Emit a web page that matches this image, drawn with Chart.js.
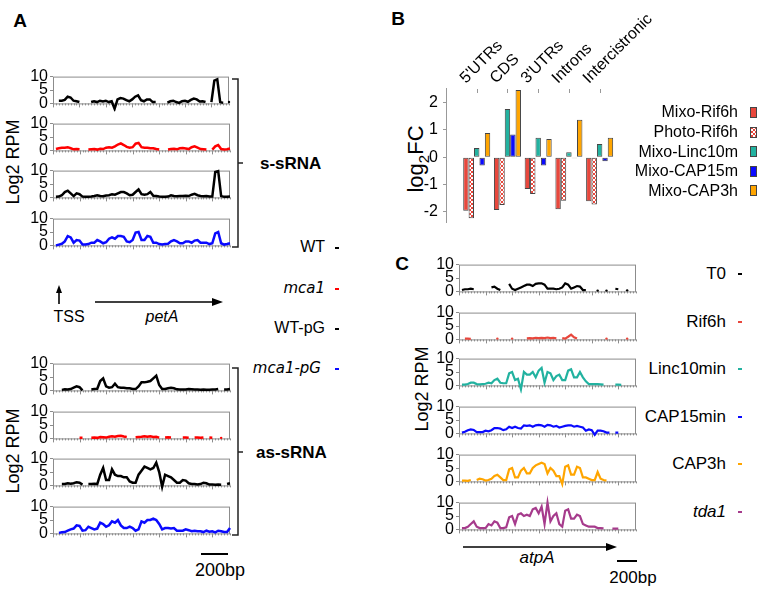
<!DOCTYPE html>
<html>
<head>
<meta charset="utf-8">
<script src="https://cdn.jsdelivr.net/npm/chart.js"></script>
<style>
  body { margin: 0; width: 761px; height: 591px; position: relative; overflow: hidden; background: #fff;
         font-family: "Liberation Sans", Arial, sans-serif; color: #000; }
  canvas { position: absolute; }
  .t { position: absolute; white-space: nowrap; line-height: 1; }
  .c { transform: translate(-50%, -50%); }
  .r { transform: translate(-100%, -50%); }
  .l { transform: translateY(-50%); }
  .rot { transform: translate(-50%, -50%) rotate(-90deg); }
  .diag { transform-origin: 0 100%; transform: rotate(-45deg); font-size: 16px; height: 16px; }
  .b { font-weight: bold; }
  .i { font-style: italic; }
  .dv { font-family: "DejaVu Sans", sans-serif; }
  svg { position: absolute; left: 0; top: 0; }
</style>
</head>
<body>

<!-- panel letters and static text -->
<div class="t c b" style="left:20px;top:20px;font-size:19px">A</div>
<div class="t c b" style="left:398px;top:18px;font-size:19px">B</div>
<div class="t c b" style="left:402px;top:263px;font-size:19px">C</div>

<div class="t rot" style="left:13px;top:162px;font-size:18px">Log2 RPM</div>
<div class="t rot" style="left:13px;top:451px;font-size:18px">Log2 RPM</div>
<div class="t rot" style="left:422px;top:389px;font-size:18px">Log2 RPM</div>
<div class="t rot" style="left:418px;top:159px;font-size:22px">log<sub style="font-size:15px">2</sub>FC</div>

<div class="t l b" style="left:260px;top:163px;font-size:17px">s-sRNA</div>
<div class="t l b" style="left:256px;top:452px;font-size:17px">as-sRNA</div>

<div class="t r" style="left:325px;top:247px;font-size:16px">WT</div>
<div class="t r i dv" style="left:325px;top:288px;font-size:15px">mca1</div>
<div class="t r" style="left:325px;top:328px;font-size:16px">WT-pG</div>
<div class="t r i dv" style="left:321px;top:368px;font-size:15px">mca1-pG</div>

<div class="t c" style="left:69px;top:317px;font-size:16px">TSS</div>
<div class="t c i" style="left:162px;top:317px;font-size:16px">petA</div>
<div class="t c" style="left:220px;top:570px;font-size:18px">200bp</div>

<div class="t r" style="left:726px;top:273px;font-size:17px">T0</div>
<div class="t r" style="left:726px;top:321px;font-size:17px">Rif6h</div>
<div class="t r" style="left:726px;top:368px;font-size:17px">Linc10min</div>
<div class="t r" style="left:726px;top:416px;font-size:17px">CAP15min</div>
<div class="t r" style="left:726px;top:463px;font-size:17px">CAP3h</div>
<div class="t r i" style="left:726px;top:511px;font-size:17px">tda1</div>
<div class="t c i" style="left:537px;top:557px;font-size:17px">atpA</div>
<div class="t c" style="left:633px;top:577px;font-size:17px">200bp</div>

<script>
// ---- panel B: log2FC per region ----
const regions = ["5'UTRs", "CDS", "3'UTRs", "Introns", "Intercistronic"];
const mixoRif6h   = [-1.95, -1.93, -1.16, -1.90, -1.61];
const photoRif6h  = [-2.23, -1.74, -1.34, -1.59, -1.73];
const mixoLinc10m = [0.34, 1.76, 0.71, 0.18, 0.48];
const mixoCap15m  = [-0.30, 0.83, -0.30, -0.04, -0.15];
const mixoCap3h   = [0.89, 2.46, 0.67, 1.37, 0.71];
const fcTicks = [-2, -1, 0, 1, 2];
const rpmTicks = [0, 5, 10];

// ---- panel A: petA coverage, 61 bins (log2 RPM) ----
const wtSense = [null,null,1,1,1.3,2.5,2.2,1,0.8,0.5, null,null,null,0.5,0.8,0.5,1,0.7,1,0.5,
  0.8,-2,1.5,2,1.8,1.2,0.8,1.5,2.5,3, 1.2,0.8,1.5,1.5,0.5,0.5,null,null,null,0.3,
  0.8,1,0.5,0.2,0.8,1,0.6,1.3,1.8,1.5, 0.7,0.8,0.5,null,0.5,8.5,9,0.5,0.2,null, 0.5];
const mca1Sense = [null,0.5,0.8,1,1,1.2,0.8,0.4,0.5,0.4, null,null,0.3,0.4,0.5,0.3,0.6,0.5,1,1.2,
  1,1.5,2.2,2.6,2,1.3,1,1.2,2.5,2.8, 1.2,1,1,0.8,0.8,0.5,0.3,null,null,0.3,
  0.5,0.6,0.4,0.8,0.9,0.7,0.5,1.2,1.5,1, 0.5,0.4,0.3,null,0.3,1.5,2,0.5,0.3,0.4, 0.7];
const wtPgSense = [null,0.2,0.3,0.8,2,2.5,1.5,0.5,1.5,1.2, 0.3,0.2,0.2,0.3,0.5,0.8,0.5,0.4,0.7,0.8,
  1.2,1,1.5,2,2,1.5,0.8,1,2,3, 1.2,1,1.2,2,0.6,0.5,0.3,0.2,0.2,0.3,
  0.8,0.5,0.4,0.5,0.5,0.6,0.5,1,1.3,0.8, 0.5,0.4,0.5,0.3,0.3,9.5,9.8,0.5,0.2,0.2, 0.3];
const mca1PgSense = [null,0,0.3,0.6,1.5,3.5,3,1,2,1.8, 0.3,0.3,0.5,1,1,2,1.5,0.8,1.2,2.5,
  3,2.5,3.5,3.5,3.2,1.5,1.2,2,4.8,5, 2,2,3.5,3.2,1,1,0.5,0.3,0.5,0.6,
  1.5,2,1.5,0.8,0.8,1.5,1.5,1,1.8,2, 1,1,1,0.5,0.8,4.5,5,0.8,0.3,0.5, 0.8];
const wtAnti = [null,null,null,0.2,0.4,0.3,0.5,1,1.5,1.2, 0,null,null,0.3,0.5,0.6,3.5,4.5,1.5,1,
  1.2,2.5,1.2,1,1,0.8,0.8,0.5,0.5,1.5, 3,3,3.2,3.5,4.5,5.5,2,0.5,0.5,0.8,
  1,0.8,0.4,0.3,0.3,0.3,0.5,0.4,0.3,0.3, 0.2,0.3,0.2,0.2,0.3,0.3,0.5,null,0.3,0.3, 0.5];
const mca1Anti = [null,null,null,null,null,null,null,null,null,0.2, 0.2,null,null,0.2,0.3,0.2,0.5,0.4,0.3,0.6,
  0.8,0.6,0.9,1,0.7,0.5,null,null,0.4,0.5, 0.6,0.8,0.6,0.8,0.5,0.6,0.3,null,0.3,0.4,
  0.3,null,null,null,0.3,0.3,0.2,null,0.3,0.3, 0.2,0.3,null,0.3,0.2,null,null,0.2,null,null, null];
const wtPgAnti = [null,null,null,0.5,0.5,0.8,0.6,0.8,1.2,1, 0.3,null,0.5,0.5,0.6,0.5,4,6.5,2,2,
  6,4,3.5,3.5,3,3,1.5,1,1,4, 5.5,7,6.5,6,6.5,8.5,5,-0.5,4,3.5,
  3,2,1,1,2,1.8,0.8,0.5,0.5,0.3, 0.5,1,0.8,0.3,0.3,0.2,0.3,0.2,null,0.5, 0.8];
const mca1PgAnti = [null,null,0.2,0.4,0.5,1,1.5,1.8,3,2.8, 1,1.2,2.5,2,1.5,1.8,4,3.5,2.5,3,
  4.5,4,5,3,2,2,2.5,2,1,1.5, 4.5,4,5,5,5.5,5,3.5,1.5,2,2,
  1.8,2,1,1,1,1.5,1.2,0.8,1,0.8, 0.8,0.5,1,0.6,0.8,0.4,1,0.8,0.5,0.5, 2];

// ---- panel C: atpA coverage, 61 bins (log2 RPM) ----
const t0 = [null,0.5,0.8,0.8,1,0.8,null,null,null,null, null,1.5,1.8,1,0.5,null,null,2.8,1,0.5,
  1,1.5,2,2.5,2.5,2,2.8,3,3,2.5, 1,1,1,0.8,1,1.5,3,2.5,1,1.5,
  2,1.8,0.5,0.5,null,null,null,0.3,null,null, 0.3,null,null,1,0.8,null,null,0.4,null,null, null];
const rif6h = [null,null,0.3,0.3,0.2,null,null,null,null,null, null,null,null,0.3,null,null,null,null,0.3,null,
  null,null,null,0.4,0.5,0.4,0.6,0.5,0.6,0.5, 0.7,0.5,0.6,0.4,null,0.5,0.3,1,1.8,0.8,
  0.3,null,null,null,null,null,null,null,null,null, 0.3,null,null,null,null,null,null,0.3,null,null, null];
const linc10min = [null,0.3,0.3,0.5,1,1,0.5,0.4,0.5,0.6, 1,0.8,2,2.5,1,0.8,0.8,4.5,5,2,
  2.5,-1.5,5,4,4,5,3,5.5,6.5,1, 5,4.5,2,3.5,4,2,2,5.5,6,3,
  3,5,3,1.5,0.5,0.5,0.5,0.5,0.4,0.3, null,null,null,0.3,0.3,0.2,null,null,null,null, null];
const cap15min = [null,0.3,0.6,1.2,1.5,1.3,0.5,0.5,0.5,1, 0.8,1.2,2,2,1.8,1.2,1.5,2.5,2,2.5,
  2,1.8,3,2.8,3,2.5,3,3.2,3,2.5, 3.2,3,2.5,2.8,2.2,2.5,2.8,3,3,2.5,
  2.8,2.5,2.2,1,1.5,1.2,-0.5,1,1,0.8, 0.3,0.3,null,0.3,0.3,null,null,null,null,null, null];
const cap3h = [null,0.3,0.3,0.2,0.5,null,0.5,1,0.8,0.3, 0.5,1,2,2.5,1.5,0.5,0.5,4.5,5,1.5,
  1.5,4,5,3,3,5,6,6.5,7,6.5, 3,5,4,2,2,-1,5.5,6,2.5,2.5,
  5.5,5,1.5,1.5,1,0.5,0.5,3.5,1,0.5, 0.3,null,null,null,null,null,null,null,null,null, null];
const tda1 = [null,0.5,0.5,1,2,3,1,0.5,0.5,0.5, 2,1.5,3,2.5,0.5,0.5,0.8,4.5,5,2,
  5.5,6,5,5.5,5,7.5,8,6,8.5,2, 10,3,5,6,2,1,7,7.5,4,4,
  5.5,5,2,1.5,1,1,1,0.5,0.5,0.4, null,null,0.3,0.3,0.3,null,null,null,null,null, null];

const FONT = '"Liberation Sans", Arial, sans-serif';
Chart.defaults.font.family = FONT;
Chart.defaults.color = '#000';

const RED = '#e8473c', TEAL = '#22b2a0', BLUE = '#0a0aff', ORANGE = '#ffa500', PURPLE = '#a63b8c';

// small coverage track
const TRACK_W = 177, TRACK_H = 30, NBINS = 60;
const PAD_L = 34, PAD_T = 10, PAD_R = 3, PAD_B = 10;

const trackFrame = {
  id: 'trackFrame',
  beforeDatasetsDraw(chart) {
    const { ctx, chartArea: a, scales: { x } } = chart;
    ctx.save();
    ctx.strokeStyle = '#8c8c8c';
    ctx.lineWidth = 1;
    ctx.strokeRect(a.left + 0.5, a.top + 0.5, a.right - a.left - 1, a.bottom - a.top);
    ctx.beginPath();
    for (let v = 0; v <= NBINS; v++) {
      const px = Math.round(x.getPixelForValue(v)) + 0.5;
      const len = v % 9 === 0 ? 4 : 2;
      ctx.moveTo(px, a.bottom);
      ctx.lineTo(px, a.bottom + len);
    }
    ctx.stroke();
    ctx.restore();
  }
};

function track(left, top, values, color, lw) {
  const cv = document.createElement('canvas');
  cv.width = PAD_L + TRACK_W + PAD_R;
  cv.height = PAD_T + TRACK_H + PAD_B;
  cv.style.left = (left - PAD_L) + 'px';
  cv.style.top = (top - PAD_T) + 'px';
  document.body.appendChild(cv);
  new Chart(cv, {
    type: 'line',
    data: {
      datasets: [{
        data: values.map((v, i) => ({ x: i, y: v })),
        borderColor: color,
        backgroundColor: color,
        borderWidth: lw,
        tension: 0,
        spanGaps: false,
        // lone bins (no neighbours) still get a tiny mark
        pointRadius: ctx => {
          const i = ctx.dataIndex;
          return values[i] != null && values[i - 1] == null && values[i + 1] == null ? 1.2 : 0;
        },
        pointBorderWidth: 0,
        clip: 8
      }]
    },
    options: {
      responsive: false,
      animation: false,
      events: [],
      layout: { padding: { left: 0, top: PAD_T, right: PAD_R, bottom: PAD_B } },
      plugins: { legend: { display: false }, tooltip: { enabled: false } },
      scales: {
        x: { type: 'linear', min: 0, max: NBINS, display: false },
        y: {
          min: 0, max: 10,
          afterFit: a => { a.width = PAD_L; },
          afterBuildTicks: a => { a.ticks = rpmTicks.map(v => ({ value: v })); },
          ticks: { font: { size: 16 }, color: '#000', padding: 2, autoSkip: false },
          grid: { drawOnChartArea: false, tickLength: 3, color: '#8c8c8c' },
          border: { display: false }
        }
      }
    },
    plugins: [trackFrame]
  });
}

const aTopsSense = [75, 122, 169, 217];
const aTopsAnti = [362, 410, 457, 505];
const cTops = [263, 311, 357, 405, 453, 501];

track(53, aTopsSense[0], wtSense, '#000', 2.5);
track(53, aTopsSense[1], mca1Sense, '#ff0000', 2.5);
track(53, aTopsSense[2], wtPgSense, '#000', 2.5);
track(53, aTopsSense[3], mca1PgSense, BLUE, 2.5);

track(53, aTopsAnti[0], wtAnti, '#000', 2.5);
track(53, aTopsAnti[1], mca1Anti, '#ff0000', 2.5);
track(53, aTopsAnti[2], wtPgAnti, '#000', 2.5);
track(53, aTopsAnti[3], mca1PgAnti, BLUE, 2.5);

track(459, cTops[0], t0, '#000', 2.2);
track(459, cTops[1], rif6h, RED, 2.2);
track(459, cTops[2], linc10min, TEAL, 2.2);
track(459, cTops[3], cap15min, BLUE, 2.2);
track(459, cTops[4], cap3h, ORANGE, 2.2);
track(459, cTops[5], tda1, PURPLE, 2.2);

// ---- panel B bar chart ----
function hatch() {
  const c = document.createElement('canvas');
  c.width = 4; c.height = 4;
  const g = c.getContext('2d');
  g.fillStyle = '#fff';
  g.fillRect(0, 0, 4, 4);
  g.strokeStyle = RED;
  g.lineWidth = 1;
  g.beginPath();
  g.moveTo(0, 0); g.lineTo(4, 4);
  g.moveTo(4, 0); g.lineTo(0, 4);
  g.stroke();
  return g.createPattern(c, 'repeat');
}

// short inward tick marks on the top (region) axis
const regionTicks = {
  id: 'regionTicks',
  afterDraw(chart) {
    const { ctx, chartArea: a, scales: { x } } = chart;
    ctx.save();
    ctx.strokeStyle = '#999';
    ctx.lineWidth = 1;
    ctx.beginPath();
    regions.forEach((r, i) => {
      const px = Math.round(x.getPixelForValue(i + 1)) + 0.5;
      ctx.moveTo(px, a.top + 1);
      ctx.lineTo(px, a.top + 5);
    });
    ctx.stroke();
    ctx.restore();
  }
};

const barLegend = {
  id: 'barLegend',
  afterDraw(chart) {
    const ctx = chart.ctx;
    ctx.save();
    ctx.font = '16px ' + FONT;
    ctx.textAlign = 'right';
    ctx.textBaseline = 'middle';
    chart.data.datasets.forEach((ds, i) => {
      const y = 113 + i * 19.6;
      ctx.fillStyle = '#000';
      ctx.fillText(ds.label, 358, y);
      ctx.fillStyle = ds.backgroundColor;
      ctx.fillRect(370.5, Math.round(y) - 5.5, 6, 10);
      ctx.strokeStyle = '#444';
      ctx.lineWidth = 1;
      ctx.strokeRect(370.5, Math.round(y) - 5.5, 6, 10);
    });
    ctx.restore();
  }
};

const BAR_LEFT = 380;
const bc = document.createElement('canvas');
// the y axis needs ~14.6px below its last tick label, so the plot bottom lands at y=222
bc.width = 381; bc.height = 237;
bc.style.left = BAR_LEFT + 'px'; bc.style.top = '0px';
document.body.appendChild(bc);

const series = [
  ['Mixo-Rif6h', mixoRif6h, RED],
  ['Photo-Rif6h', photoRif6h, hatch()],
  ['Mixo-Linc10m', mixoLinc10m, TEAL],
  ['Mixo-CAP15m', mixoCap15m, BLUE],
  ['Mixo-CAP3h', mixoCap3h, ORANGE]
];

const barChart = new Chart(bc, {
  type: 'bar',
  data: {
    datasets: series.map(([label, vals, col]) => ({
      label,
      data: vals.map((v, i) => ({ x: i + 1, y: v })),
      backgroundColor: col,
      borderColor: '#444',
      borderWidth: 1,
      borderSkipped: false,
      categoryPercentage: 0.88,
      barPercentage: 1
    }))
  },
  options: {
    responsive: false,
    animation: false,
    events: [],
    layout: { padding: { left: 0, top: 0, right: 146, bottom: 10 } },
    plugins: { legend: { display: false }, tooltip: { enabled: false } },
    scales: {
      x: {
        type: 'linear', position: 'top', min: 0, max: 5.5, offset: false,
        afterFit: a => { a.height = 88; },
        afterBuildTicks: a => { a.ticks = regions.map((r, i) => ({ value: i + 1 })); },
        ticks: { display: false },
        grid: { display: false },
        border: { display: false }
      },
      y: {
        min: -2.38, max: 2.53,
        afterFit: a => { a.width = 66; },
        afterBuildTicks: a => { a.ticks = fcTicks.map(v => ({ value: v })); },
        ticks: { font: { size: 16 }, color: '#000', padding: 5, autoSkip: false },
        grid: { drawOnChartArea: false, tickLength: 3, color: '#999' },
        border: { color: '#999' }
      }
    }
  },
  plugins: [regionTicks, barLegend]
});

// rotated region names, placed from the chart's own x scale
regions.forEach((r, i) => {
  const px = BAR_LEFT + barChart.scales.x.getPixelForValue(i + 1);
  const d = document.createElement('div');
  d.className = 't diag';
  d.textContent = r;
  d.style.left = (px - 9) + 'px';
  d.style.top = (barChart.chartArea.top - 2 - 16) + 'px';
  document.body.appendChild(d);
});
</script>

<!-- brackets, arrows, legend dashes, scale bars -->
<svg width="761" height="591">
  <g stroke="#222" stroke-width="1.5" fill="none">
    <path d="M232 79 H238 V247 H232 M238 163 H243"/>
    <path d="M232 368 H238 V535 H232 M238 452 H243"/>
  </g>
  <g stroke="#000" stroke-width="1.6">
    <line x1="59" y1="304" x2="59" y2="292"/>
    <line x1="95" y1="302" x2="214" y2="302"/>
    <line x1="463" y1="547" x2="607" y2="547"/>
  </g>
  <polygon points="59,285 56,293 62,293" fill="#000"/>
  <polygon points="223,302 212,298 212,306" fill="#000"/>
  <polygon points="617,547 606,543 606,551" fill="#000"/>
  <g stroke-width="2">
    <line x1="201" y1="554" x2="228" y2="554" stroke="#000"/>
    <line x1="617" y1="561" x2="637" y2="561" stroke="#000"/>
    <line x1="335" y1="248" x2="339" y2="248" stroke="#000"/>
    <line x1="335" y1="289" x2="339" y2="289" stroke="#ff0000"/>
    <line x1="335" y1="329" x2="339" y2="329" stroke="#000"/>
    <line x1="335" y1="369" x2="339" y2="369" stroke="#0a0aff"/>
    <line x1="738" y1="274" x2="742" y2="274" stroke="#000"/>
    <line x1="738" y1="322" x2="742" y2="322" stroke="#e8473c"/>
    <line x1="738" y1="369" x2="742" y2="369" stroke="#22b2a0"/>
    <line x1="738" y1="417" x2="742" y2="417" stroke="#0a0aff"/>
    <line x1="738" y1="464" x2="742" y2="464" stroke="#ffa500"/>
    <line x1="738" y1="512" x2="742" y2="512" stroke="#a63b8c"/>
  </g>
</svg>
</body>
</html>
